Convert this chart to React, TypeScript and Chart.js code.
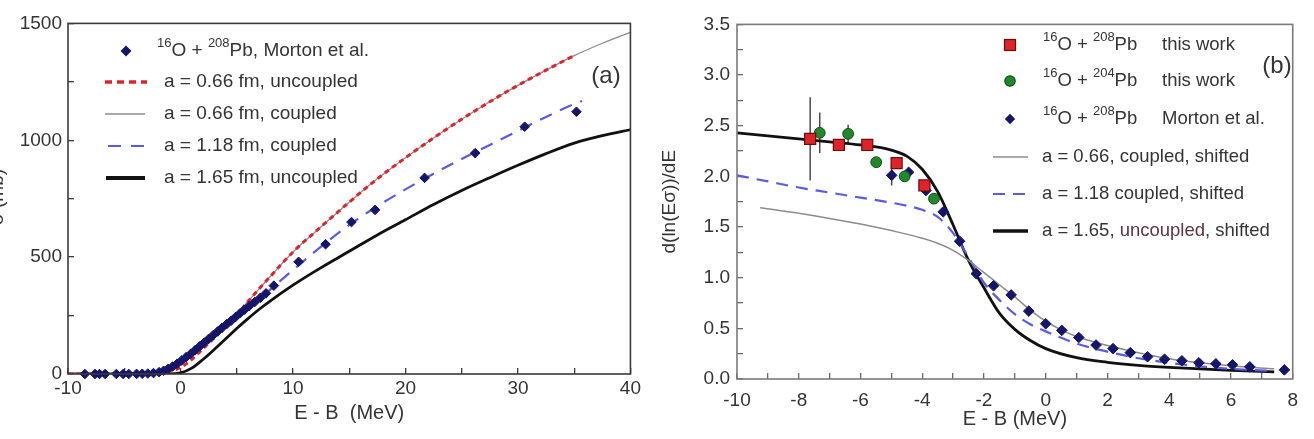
import { useEffect, useRef } from "react";
import { Chart, registerables } from "chart.js";

Chart.register(...registerables);

const FONT = "'Liberation Sans', Arial, Helvetica, sans-serif";
const TEXT = "#343434";
const NAVY = "#15156a";
const RED = "#e0232b";
const GREY = "#8c8c8c";
const BLUE = "#5a5ae8";
const BLACK = "#111111";
const GREEN = "#23882b";

// ---------- Panel (a): fusion cross section vs E - B ----------
const aXLabels = [-10, 0, 10, 20, 30, 40];
const aYLabels = [0, 500, 1000, 1500];

// 16O + 208Pb, Morton et al.
const mortonAE = [-8.5, -7.6, -7.2, -6.7, -5.7, -5.1, -4.6, -3.9, -3.4, -2.9, -2.4, -1.9, -1.5, -1.1, -0.7, -0.3, 0.1, 0.5, 0.9, 1.3, 1.7, 2.1, 2.5, 2.9, 3.3, 3.7, 4.1, 4.5, 4.9, 5.3, 5.7, 6.1, 6.6, 7.1, 7.6, 8.3, 10.5, 12.9, 15.2, 17.3, 21.7, 26.2, 30.6, 35.2];
const mortonASigma = [0, 0, 0, 0, 0, 0, 0.2, 0.5, 1, 2, 4, 8, 14, 22, 32, 44, 58, 72, 86, 102, 118, 134, 150, 166, 182, 198, 213, 228, 244, 260, 275, 290, 308, 326, 345, 378, 480, 555, 650, 702, 839, 945, 1058, 1122];

// a = 0.66 fm, uncoupled
const a066UncE = [-10, -6, -4, -3, -2, -1, 0, 1, 2, 3, 4, 5, 6, 7, 8, 10, 12.5, 15, 17.5, 20, 22.5, 25, 27.5, 30, 32.5, 35];
const a066UncSigma = [0, 0, 0.3, 1, 3, 10, 28, 62, 108, 155, 205, 255, 310, 365, 418, 522, 630, 735, 835, 925, 1010, 1090, 1165, 1235, 1300, 1362];

// a = 0.66 fm, coupled
const a066CplE = [-10, -6, -4, -3, -2, -1, 0, 1, 2, 3, 4, 5, 6, 7, 8, 10, 12.5, 15, 17.5, 20, 22.5, 25, 27.5, 30, 32.5, 35, 37.5, 40];
const a066CplSigma = [0, 0.3, 2, 5, 11, 24, 45, 78, 118, 160, 207, 256, 310, 365, 418, 522, 630, 735, 835, 925, 1010, 1090, 1165, 1235, 1300, 1362, 1415, 1462];

// a = 1.18 fm, coupled
const a118CplE = [-10, -4, -3, -2, -1, 0, 1, 2, 3, 4, 5, 6, 7, 8, 10, 12.5, 15, 17.5, 20, 22.5, 25, 27.5, 30, 32.5, 35, 35.7];
const a118CplSigma = [0, 1, 4, 12, 28, 52, 85, 122, 162, 202, 242, 282, 322, 362, 445, 545, 638, 718, 790, 857, 920, 980, 1040, 1100, 1155, 1168];

// a = 1.65 fm, uncoupled
const a165UncE = [-10, -1, 0, 1, 2, 3, 4, 5, 6, 7, 8, 10, 12.5, 15, 17.5, 20, 22.5, 25, 27.5, 30, 32.5, 35, 37.5, 40];
const a165UncSigma = [0, 0.5, 5, 25, 62, 105, 150, 195, 237, 277, 313, 380, 455, 525, 595, 660, 725, 785, 840, 893, 943, 988, 1020, 1045];

// ---------- Panel (b): barrier distribution slope ----------
const bXLabels = [-10, -8, -6, -4, -2, 0, 2, 4, 6, 8];
const bYLabels = [0, 0.5, 1, 1.5, 2, 2.5, 3, 3.5];

// 16O + 208Pb, this work
const pb208E = [-7.63, -6.7, -5.78, -4.83, -3.93];
const pb208D = [2.37, 2.31, 2.31, 2.13, 1.91];
const pb208Err = [0.41, 0.06, 0, 0, 0];

// 16O + 204Pb, this work
const pb204E = [-7.32, -6.4, -5.49, -4.57, -3.62];
const pb204D = [2.43, 2.42, 2.14, 2.0, 1.78];
const pb204Err = [0.2, 0.09, 0, 0, 0];

// 16O + 208Pb, Morton et al.
const mortonBE = [-4.99, -4.44, -3.88, -3.32, -2.79, -2.25, -1.69, -1.12, -0.55, 0.0, 0.52, 1.07, 1.63, 2.18, 2.74, 3.3, 3.85, 4.41, 4.96, 5.51, 6.05, 6.61, 7.73];
const mortonBD = [2.01, 2.04, 1.86, 1.65, 1.36, 1.04, 0.92, 0.83, 0.67, 0.545, 0.48, 0.41, 0.335, 0.3, 0.26, 0.22, 0.195, 0.18, 0.16, 0.15, 0.14, 0.12, 0.09];
const mortonBErr = [0.1, 0, 0, 0, 0, 0, 0, 0, 0, 0, 0, 0, 0, 0, 0, 0, 0, 0, 0, 0, 0, 0, 0];

// calculated curves, shifted
const bGridE = [-10, -9, -8, -7, -6, -5, -4.5, -4, -3.5, -3, -2.5, -2, -1.5, -1, -0.5, 0, 1, 2, 3, 4, 5, 6, 7.4];
const b165D = [2.43, 2.4, 2.37, 2.34, 2.31, 2.26, 2.2, 2.07, 1.85, 1.52, 1.17, 0.9, 0.65, 0.49, 0.38, 0.3, 0.21, 0.165, 0.135, 0.115, 0.1, 0.085, 0.07];
const b118D = [2.01, 1.95, 1.89, 1.84, 1.79, 1.74, 1.71, 1.67, 1.6, 1.44, 1.2, 0.95, 0.78, 0.64, 0.54, 0.47, 0.35, 0.27, 0.205, 0.16, 0.125, 0.1, 0.08];
const b066E = [-9.25, -8, -7, -6, -5, -4, -3.5, -3, -2.5, -2, -1.5, -1, -0.5, 0, 0.5, 1, 2, 3, 4, 5, 6, 7.4];
const b066D = [1.69, 1.635, 1.585, 1.53, 1.465, 1.39, 1.34, 1.27, 1.17, 1.05, 0.93, 0.81, 0.68, 0.57, 0.485, 0.42, 0.33, 0.26, 0.2, 0.16, 0.13, 0.1];

const pts = (xs: number[], ys: number[]) => xs.map((x, i) => ({ x, y: ys[i] }));
const hasLabel = (list: number[], v: number) => list.some((t) => Math.abs(t - v) < 1e-6);

type Run = { t: string; sup?: boolean; color?: string };

function drawRuns(ctx: CanvasRenderingContext2D, runs: Run[], x: number, y: number, size: number, supSize: number) {
  let cx = x;
  ctx.textAlign = "left";
  ctx.textBaseline = "middle";
  for (const r of runs) {
    ctx.font = `${r.sup ? supSize : size}px ${FONT}`;
    ctx.fillStyle = r.color || TEXT;
    ctx.fillText(r.t, cx, r.sup ? y - size * 0.42 : y);
    cx += ctx.measureText(r.t).width;
  }
  return cx;
}

function legendLine(ctx: CanvasRenderingContext2D, x1: number, x2: number, y: number, color: string, width: number, dash: number[]) {
  ctx.save();
  ctx.strokeStyle = color;
  ctx.lineWidth = width;
  ctx.setLineDash(dash);
  ctx.beginPath();
  ctx.moveTo(x1, y);
  ctx.lineTo(x2, y);
  ctx.stroke();
  ctx.restore();
}

function diamond(ctx: CanvasRenderingContext2D, x: number, y: number, r: number, color: string) {
  ctx.fillStyle = color;
  ctx.beginPath();
  ctx.moveTo(x, y - r);
  ctx.lineTo(x + r, y);
  ctx.lineTo(x, y + r);
  ctx.lineTo(x - r, y);
  ctx.closePath();
  ctx.fill();
}

function frame(ctx: CanvasRenderingContext2D, ca: any, color: string, width: number) {
  ctx.save();
  ctx.strokeStyle = color;
  ctx.lineWidth = width;
  ctx.strokeRect(ca.left, ca.top, ca.right - ca.left, ca.bottom - ca.top);
  ctx.restore();
}

const errorBars = {
  id: "errorBars",
  beforeDatasetsDraw(chart: any) {
    const { ctx } = chart;
    const x = chart.scales.x;
    const y = chart.scales.y;
    ctx.save();
    ctx.strokeStyle = "#4a4a4a";
    ctx.lineWidth = 1.5;
    chart.data.datasets.forEach((ds: any) => {
      const errs: number[] | undefined = ds.errorBars;
      if (!errs) return;
      ds.data.forEach((p: any, i: number) => {
        const e = errs[i];
        if (!e) return;
        const px = x.getPixelForValue(p.x);
        ctx.beginPath();
        ctx.moveTo(px, y.getPixelForValue(p.y - e));
        ctx.lineTo(px, y.getPixelForValue(p.y + e));
        ctx.stroke();
      });
    });
    ctx.restore();
  },
};

const panelADecor = {
  id: "panelADecor",
  afterDraw(chart: any) {
    const { ctx, chartArea } = chart;
    frame(ctx, chartArea, "#3a3a3a", 1.6);
    ctx.save();
    // y title, running off the left edge of the page
    ctx.translate(3, 197);
    ctx.rotate(-Math.PI / 2);
    ctx.font = `19px ${FONT}`;
    ctx.fillStyle = TEXT;
    ctx.textAlign = "center";
    ctx.textBaseline = "alphabetic";
    ctx.fillText("σ (mb)", 0, 0);
    ctx.restore();

    ctx.save();
    ctx.font = `24px ${FONT}`;
    ctx.fillStyle = TEXT;
    ctx.textAlign = "center";
    ctx.textBaseline = "middle";
    ctx.fillText("(a)", 606, 76);

    diamond(ctx, 126, 51, 5.5, NAVY);
    drawRuns(ctx, [{ t: "16", sup: true }, { t: "O + " }, { t: "208", sup: true }, { t: "Pb, Morton et al." }], 157, 51, 19, 13);
    legendLine(ctx, 105, 147, 82, RED, 3.5, [7, 5]);
    drawRuns(ctx, [{ t: "a = 0.66 fm, uncoupled" }], 164, 82, 19, 13);
    legendLine(ctx, 105, 145, 114, GREY, 1.5, []);
    drawRuns(ctx, [{ t: "a = 0.66 fm, coupled" }], 164, 114, 19, 13);
    legendLine(ctx, 108, 147, 146, BLUE, 2.2, [13, 10]);
    drawRuns(ctx, [{ t: "a = 1.18 fm, coupled" }], 164, 146, 19, 13);
    legendLine(ctx, 106, 145, 178, BLACK, 4, []);
    drawRuns(ctx, [{ t: "a = 1.65 fm, uncoupled" }], 164, 178, 19, 13);
    ctx.restore();
  },
};

const panelBDecor = {
  id: "panelBDecor",
  afterDraw(chart: any) {
    const { ctx, chartArea } = chart;
    frame(ctx, chartArea, "#7a7a7a", 1.6);
    ctx.save();
    ctx.font = `24px ${FONT}`;
    ctx.fillStyle = TEXT;
    ctx.textAlign = "center";
    ctx.textBaseline = "middle";
    ctx.fillText("(b)", 627, 66);

    const mx = 360;
    const tx = 393;
    const tx2 = 512;
    const size = 18.5;
    // red square
    ctx.fillStyle = RED;
    ctx.strokeStyle = "#6e0b0b";
    ctx.lineWidth = 1.2;
    ctx.fillRect(mx - 5.5, 45 - 5.5, 11, 11);
    ctx.strokeRect(mx - 5.5, 45 - 5.5, 11, 11);
    drawRuns(ctx, [{ t: "16", sup: true }, { t: "O + " }, { t: "208", sup: true }, { t: "Pb" }], tx, 45, size, 13);
    drawRuns(ctx, [{ t: "this work" }], tx2, 45, size, 13);
    // green circle
    ctx.fillStyle = GREEN;
    ctx.strokeStyle = "#114d16";
    ctx.beginPath();
    ctx.arc(mx, 81, 5.2, 0, Math.PI * 2);
    ctx.fill();
    ctx.stroke();
    drawRuns(ctx, [{ t: "16", sup: true }, { t: "O + " }, { t: "204", sup: true }, { t: "Pb" }], tx, 81, size, 13);
    drawRuns(ctx, [{ t: "this work" }], tx2, 81, size, 13);
    // navy diamond
    diamond(ctx, mx, 119, 5.2, NAVY);
    drawRuns(ctx, [{ t: "16", sup: true }, { t: "O + " }, { t: "208", sup: true }, { t: "Pb" }], tx, 119, size, 13);
    drawRuns(ctx, [{ t: "Morton et al." }], tx2, 119, size, 13);

    legendLine(ctx, 343, 378, 157, GREY, 1.6, []);
    drawRuns(ctx, [{ t: "a = 0.66, coupled, shifted" }], 392, 157, size, 13);
    legendLine(ctx, 343, 378, 194, BLUE, 2.2, [12, 8]);
    drawRuns(ctx, [{ t: "a = 1.18 coupled, shifted" }], 392, 194, size, 13);
    legendLine(ctx, 343, 378, 231, BLACK, 3.5, []);
    drawRuns(ctx, [{ t: "a = 1.65, " }, { t: "uncoupled", color: "#5e3444" }, { t: ", shifted" }], 392, 231, size, 13);
    ctx.restore();
  },
};

const tickFont = { family: FONT, size: 19 };

function curve(data: { x: number; y: number }[], color: string, width: number, dash: number[], order: number) {
  return {
    data,
    showLine: true,
    pointRadius: 0,
    borderColor: color,
    backgroundColor: color,
    borderWidth: width,
    borderDash: dash,
    cubicInterpolationMode: "monotone",
    order,
  };
}

function makeConfigA(): any {
  return {
    type: "scatter",
    data: {
      datasets: [
        {
          data: pts(mortonAE, mortonASigma),
          pointStyle: "rectRot",
          pointRadius: 4.8,
          backgroundColor: NAVY,
          borderColor: NAVY,
          borderWidth: 1,
          showLine: false,
          clip: false,
          order: 0,
        },
        curve(pts(a066UncE, a066UncSigma), RED, 3, [5, 4], 1),
        curve(pts(a066CplE, a066CplSigma), GREY, 1.3, [], 2),
        curve(pts(a118CplE, a118CplSigma), BLUE, 2.2, [13, 9], 3),
        curve(pts(a165UncE, a165UncSigma), BLACK, 2.8, [], 4),
      ],
    },
    options: {
      responsive: false,
      animation: false,
      events: [],
      layout: { padding: { left: 0, right: 17, top: 21, bottom: 0 } },
      plugins: { legend: { display: false }, tooltip: { enabled: false } },
      scales: {
        x: {
          type: "linear",
          position: "bottom",
          min: -10,
          max: 40,
          afterFit: (s: any) => {
            s.height = 65;
          },
          ticks: {
            stepSize: 5,
            autoSkip: false,
            maxRotation: 0,
            padding: 9,
            font: tickFont,
            color: TEXT,
            callback: (v: number) => (hasLabel(aXLabels, v) ? String(v) : ""),
          },
          grid: { display: true, drawOnChartArea: false, drawTicks: true, tickLength: -6, color: "#3a3a3a", lineWidth: 1.3 },
          border: { display: false },
          title: {
            display: true,
            text: "E - B  (MeV)",
            font: { family: FONT, size: 20 },
            color: TEXT,
            padding: { top: 0, bottom: 14 },
          },
        },
        y: {
          type: "linear",
          position: "left",
          min: 0,
          max: 1500,
          afterFit: (s: any) => {
            s.width = 68;
          },
          ticks: {
            stepSize: 250,
            autoSkip: false,
            padding: 12,
            font: tickFont,
            color: TEXT,
            callback: (v: number) => (hasLabel(aYLabels, v) ? String(v) : ""),
          },
          grid: { display: true, drawOnChartArea: false, drawTicks: true, tickLength: -6, color: "#3a3a3a", lineWidth: 1.3 },
          border: { display: false },
        },
      },
    },
    plugins: [panelADecor],
  };
}

function makeConfigB(): any {
  return {
    type: "scatter",
    data: {
      datasets: [
        {
          data: pts(pb208E, pb208D),
          errorBars: pb208Err,
          pointStyle: "rect",
          pointRadius: 7.8,
          backgroundColor: RED,
          borderColor: "#6e0b0b",
          borderWidth: 1.2,
          showLine: false,
          clip: false,
          order: 0,
        },
        {
          data: pts(pb204E, pb204D),
          errorBars: pb204Err,
          pointStyle: "circle",
          pointRadius: 5.4,
          backgroundColor: GREEN,
          borderColor: "#114d16",
          borderWidth: 1,
          showLine: false,
          clip: false,
          order: 1,
        },
        {
          data: pts(mortonBE, mortonBD),
          errorBars: mortonBErr,
          pointStyle: "rectRot",
          pointRadius: 5.3,
          backgroundColor: NAVY,
          borderColor: NAVY,
          borderWidth: 1,
          showLine: false,
          clip: false,
          order: 2,
        },
        curve(pts(b066E, b066D), GREY, 1.5, [], 3),
        curve(pts(bGridE, b118D), BLUE, 2.2, [12, 8], 4),
        curve(pts(bGridE, b165D), BLACK, 2.8, [], 5),
      ],
    },
    options: {
      responsive: false,
      animation: false,
      events: [],
      layout: { padding: { left: 0, right: 9, top: 20, bottom: 0 } },
      plugins: { legend: { display: false }, tooltip: { enabled: false } },
      scales: {
        x: {
          type: "linear",
          position: "bottom",
          min: -10,
          max: 8,
          afterFit: (s: any) => {
            s.height = 60;
          },
          ticks: {
            stepSize: 1,
            autoSkip: false,
            maxRotation: 0,
            padding: 16,
            font: tickFont,
            color: TEXT,
            callback: (v: number) => (hasLabel(bXLabels, v) ? String(v) : ""),
          },
          grid: { display: true, drawOnChartArea: false, drawTicks: true, tickLength: -6, color: "#6a6a6a", lineWidth: 1.3 },
          border: { display: false },
          title: {
            display: true,
            text: "E - B (MeV)",
            font: { family: FONT, size: 20 },
            color: TEXT,
            padding: { top: 0, bottom: 8 },
          },
        },
        y: {
          type: "linear",
          position: "left",
          min: 0,
          max: 3.5,
          afterFit: (s: any) => {
            s.width = 87;
          },
          ticks: {
            stepSize: 0.25,
            autoSkip: false,
            padding: 13,
            font: tickFont,
            color: TEXT,
            callback: (v: number) => (hasLabel(bYLabels, v) ? Number(v).toFixed(1) : ""),
          },
          grid: { display: true, drawOnChartArea: false, drawTicks: true, tickLength: -6, color: "#6a6a6a", lineWidth: 1.3 },
          border: { display: false },
          title: {
            display: true,
            text: "d(ln(Eσ))/dE",
            font: { family: FONT, size: 19 },
            color: TEXT,
            padding: { top: 8, bottom: 0 },
          },
        },
      },
    },
    plugins: [errorBars, panelBDecor],
  };
}

export default function App() {
  const aRef = useRef<HTMLCanvasElement>(null);
  const bRef = useRef<HTMLCanvasElement>(null);

  useEffect(() => {
    const a = new Chart(aRef.current as HTMLCanvasElement, makeConfigA());
    const b = new Chart(bRef.current as HTMLCanvasElement, makeConfigB());
    return () => {
      a.destroy();
      b.destroy();
    };
  }, []);

  return (
    <div style={{ position: "absolute", left: 0, top: 0, width: 1314, height: 439, background: "#fff", overflow: "hidden" }}>
      <canvas ref={aRef} width={650} height={439} style={{ position: "absolute", left: 0, top: 0, width: 650, height: 439 }} />
      <canvas ref={bRef} width={664} height={439} style={{ position: "absolute", left: 650, top: 0, width: 664, height: 439 }} />
    </div>
  );
}
